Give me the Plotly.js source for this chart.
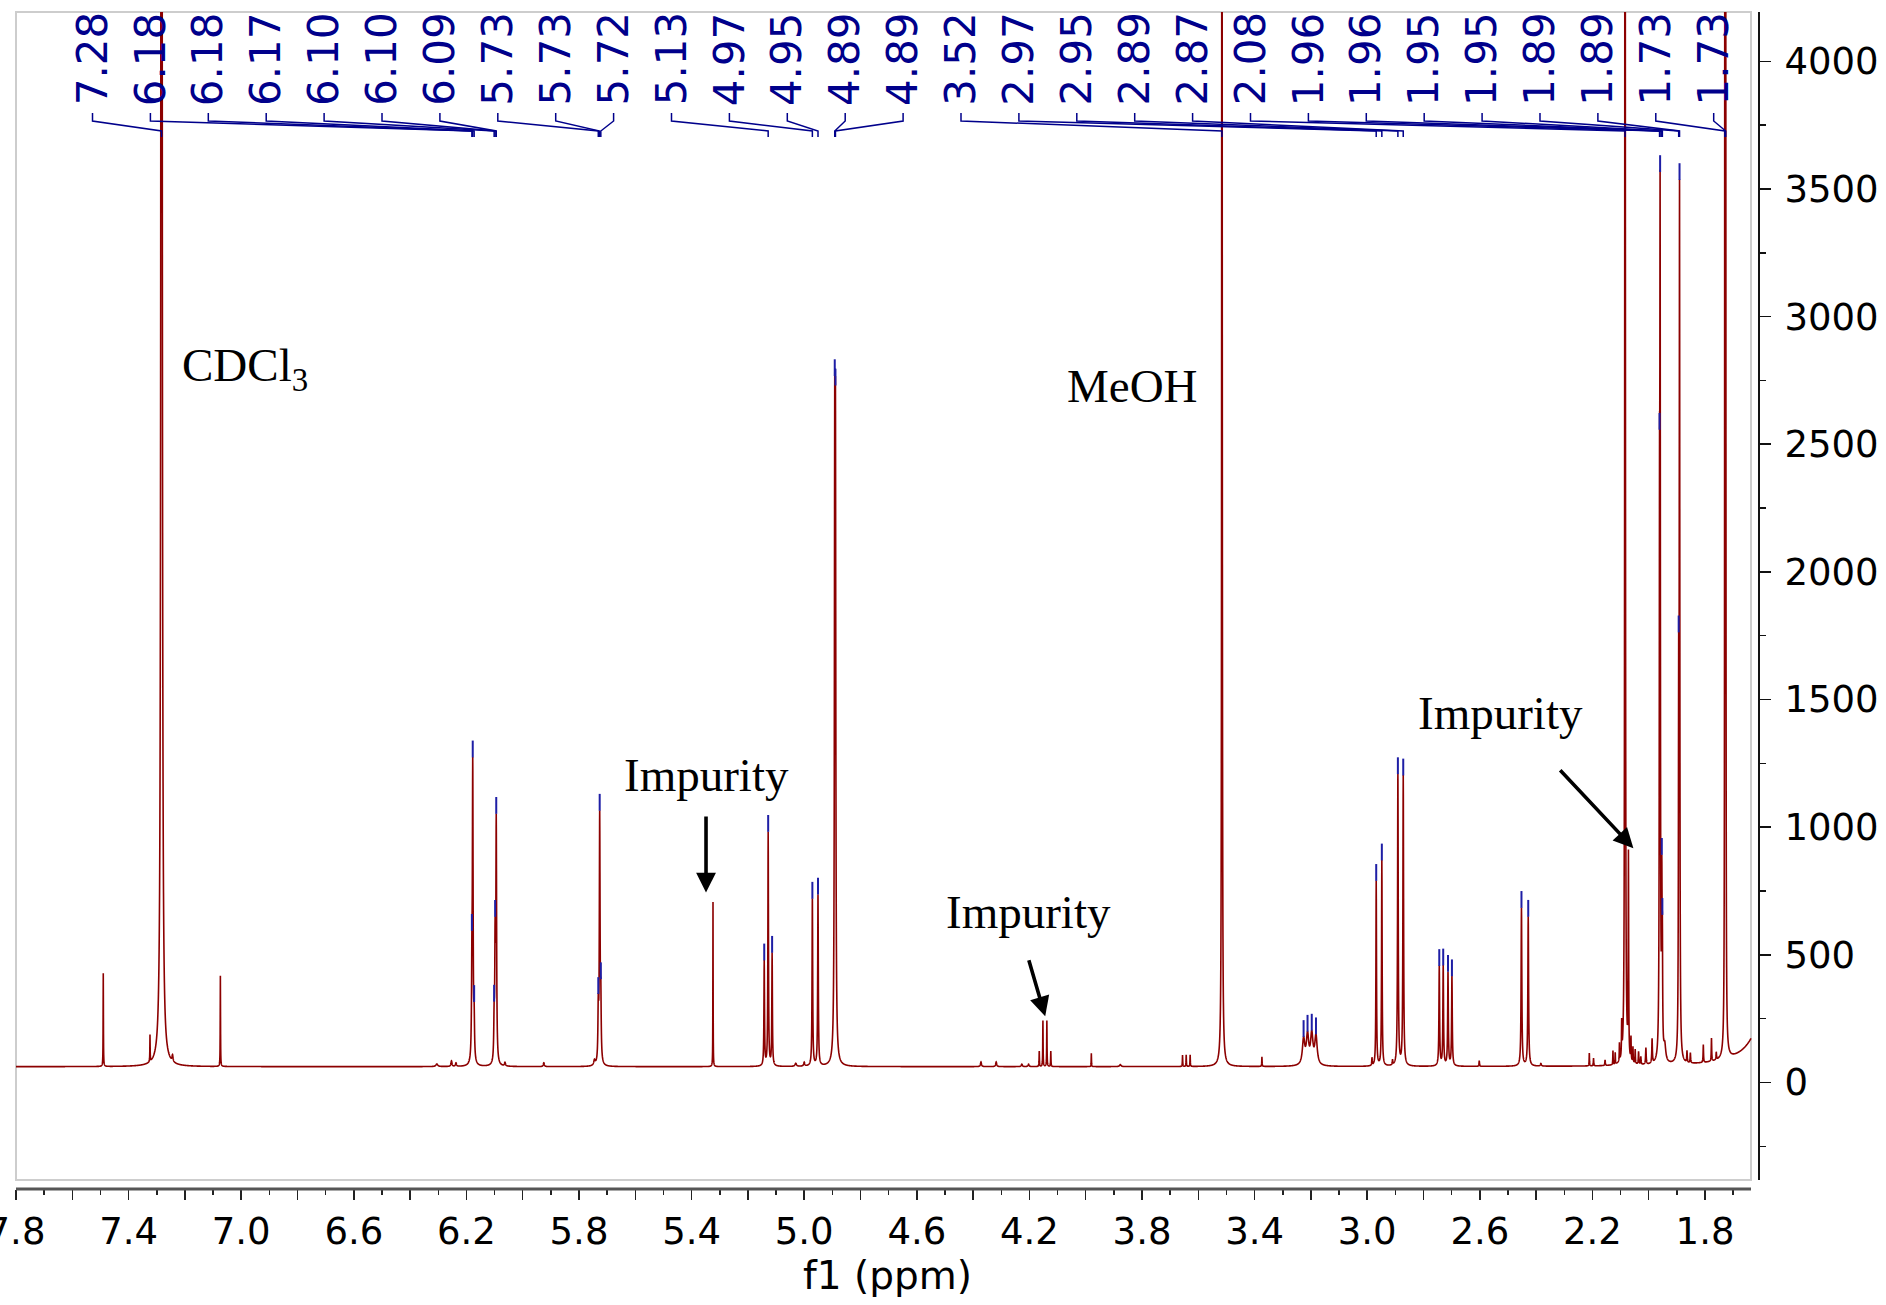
<!DOCTYPE html>
<html>
<head>
<meta charset="utf-8">
<script src="https://cdn.plot.ly/plotly-3.0.1.min.js"></script>
<style>
  html, body { margin: 0; padding: 0; background: #ffffff; }
  #chart { width: 1886px; height: 1305px; }
</style>
</head>
<body>
<div id="chart"></div>
<script>
// ---- 1H NMR peak table (CDCl3) ----
// chemical shift (ppm)
const peakPpm = [
  7.490, 7.324, 7.283, 7.244, 7.074,
  6.305, 6.253, 6.237,
  6.1805, 6.1775, 6.1725,
  6.1015, 6.098, 6.094,
  6.063, 5.925, 5.745,
  5.7315, 5.7265, 5.7225,
  5.324,
  5.142, 5.128, 5.114,
  5.030, 5.000,
  4.971, 4.951,
  4.8915, 4.889,
  4.372, 4.318, 4.227, 4.203,
  4.165, 4.152, 4.138, 4.124,
  3.980, 3.877,
  3.656, 3.643, 3.629,
  3.516,
  3.374,
  3.226, 3.212, 3.197, 3.182,
  2.983, 2.968, 2.948, 2.910, 2.891, 2.872,
  2.744, 2.730, 2.713, 2.699,
  2.602,
  2.452, 2.428, 2.383,
  2.211, 2.196, 2.155, 2.127, 2.119, 2.104, 2.096,
  2.084, 2.072,
  2.063, 2.056, 2.048, 2.036, 2.028, 2.010, 1.988,
  1.9615, 1.9595, 1.9535, 1.9515, 1.943,
  1.8935, 1.8905,
  1.864, 1.852, 1.806, 1.777, 1.760,
  1.7295, 1.7265,
  1.565
];
// height above the baseline (intensity units)
const peakHeight = [
  365, 105, 15500, 25, 355,
  10, 22, 14,
  300, 1140, 150,
  150, 450, 930,
  14, 15, 20,
  200, 960, 220,
  645,
  410, 915, 440,
  12, 15,
  655, 670,
  2150, 2100,
  18, 18, 10, 10,
  60, 180, 180, 60,
  52, 8,
  45, 45, 45,
  7000,
  38,
  100, 112, 117, 112,
  30, 725, 805, 20, 1140, 1135,
  390, 390, 365, 350,
  22,
  620, 585, 10,
  50, 30, 22, 55, 45, 70, 130,
  8000, 790,
  90, 60, 55, 50, 30, 65, 95,
  1760, 3060, 600, 360, 60,
  1300, 3310,
  45, 40, 70, 90, 30,
  5000, 5000,
  310
];
// half width at half height (ppm)
const peakHwhm = [
  0.0006, 0.0006, 0.0015, 0.002, 0.0006,
  0.004, 0.002, 0.002,
  0.0015, 0.0015, 0.0015,
  0.0015, 0.0015, 0.0015,
  0.002, 0.002, 0.003,
  0.0015, 0.0015, 0.0015,
  0.0005,
  0.0012, 0.0012, 0.0012,
  0.003, 0.002,
  0.0013, 0.0013,
  0.0015, 0.0015,
  0.002, 0.002, 0.002, 0.002,
  0.0007, 0.0007, 0.0007, 0.0007,
  0.0006, 0.003,
  0.0007, 0.0007, 0.0007,
  0.001,
  0.0007,
  0.005, 0.005, 0.005, 0.005,
  0.001, 0.0012, 0.0012, 0.001, 0.0014, 0.0014,
  0.0014, 0.0014, 0.0014, 0.0014,
  0.001,
  0.0015, 0.0015, 0.002,
  0.0007, 0.0008, 0.001, 0.0007, 0.0007, 0.0007, 0.0008,
  0.001, 0.0009,
  0.0008, 0.0008, 0.0008, 0.001, 0.001, 0.0012, 0.0012,
  0.0011, 0.0011, 0.0011, 0.0011, 0.004,
  0.0011, 0.0011,
  0.001, 0.001, 0.0009, 0.0009, 0.001,
  0.0008, 0.0008,
  0.053
];
const baselineLevel = 62;

// labelled lines (shift printed above the spectrum)
const labelPpm = [
  7.283, 6.1805, 6.1775, 6.1725, 6.1015, 6.098, 6.094,
  5.7315, 5.7265, 5.7225, 5.128, 4.971, 4.951, 4.8915, 4.889,
  3.516, 2.968, 2.948, 2.891, 2.872, 2.084,
  1.9615, 1.9595, 1.9535, 1.9515, 1.8935, 1.8905, 1.7295, 1.7265
];
// further picked lines (tick mark only, no label)
const pickedExtraPpm = [5.142, 5.114, 3.226, 3.212, 3.197, 3.182,
  2.744, 2.730, 2.713, 2.699, 2.452, 2.428];

// axis tick labels
const xTickLabels = ['7.8', '7.4', '7.0', '6.6', '6.2', '5.8', '5.4', '5.0',
  '4.6', '4.2', '3.8', '3.4', '3.0', '2.6', '2.2', '1.8'];
const yTickLabels = ['0', '500', '1000', '1500', '2000', '2500', '3000', '3500', '4000'];

// ---- geometry ----
const X_LEFT = 7.8, X_RIGHT = 1.6082;     // axis range (reversed ppm scale)
const X_DATA_END = 1.636;                  // spectrum stops at the frame edge
const Y_MIN = -417.2, Y_MAX = 4193.1;
const FRAME_RIGHT = 0.99541, FRAME_BOTTOM = 0.00765;

function intensity(x) {
  let s = baselineLevel;
  for (let i = 0; i < peakPpm.length; i++) {
    const w2 = peakHwhm[i] * peakHwhm[i];
    const d = x - peakPpm[i];
    s += peakHeight[i] * w2 / (d * d + w2);
  }
  return s;
}

// sampled spectrum, with every line centre included so apexes are exact
const xs = [];
for (let k = 0; ; k++) {
  const v = X_LEFT - k * 0.0004;
  if (v < X_DATA_END) break;
  xs.push(v);
}
peakPpm.forEach(p => { if (p <= X_LEFT && p >= X_DATA_END) xs.push(p); });
xs.sort((a, b) => b - a);
const ys = xs.map(intensity);

const spectrum = {
  type: 'scatter', mode: 'lines', x: xs, y: ys,
  line: { color: 'rgb(140,0,0)', width: 1.6, simplify: false },
  hoverinfo: 'skip'
};

// peak-pick tick marks sitting just above the trace
const pickedPpm = labelPpm.concat(pickedExtraPpm);
const pxPerUnit = 1177 / (Y_MAX - Y_MIN);
const pickTicks = {
  type: 'scatter', mode: 'markers',
  x: pickedPpm,
  y: pickedPpm.map(p => intensity(p) + 8 / pxPerUnit),
  marker: { symbol: 'line-ns', size: 12, line: { width: 2, color: 'rgb(30,30,165)' } },
  hoverinfo: 'skip'
};

// ---- peak labels with bracket connectors ----
const navy = 'rgb(0,0,139)';
const slotFirst = 7.5282, slotStep = 0.20568;  // evenly spread label slots (ppm)
const yA = 0.91419, yB = 0.90739, yC = 0.89890, yD = 0.89380;
const shapes = [
  { type: 'rect', xref: 'paper', yref: 'paper', x0: 0, x1: FRAME_RIGHT, y0: FRAME_BOTTOM, y1: 1,
    line: { color: 'rgb(205,205,205)', width: 2 }, fillcolor: 'rgba(0,0,0,0)', layer: 'below' },
  { type: 'line', xref: 'paper', yref: 'paper', x0: 0, x1: FRAME_RIGHT, y0: 0, y1: 0,
    line: { color: 'rgb(85,85,85)', width: 3 } },
  { type: 'line', xref: 'paper', yref: 'paper', x0: 1, x1: 1, y0: FRAME_BOTTOM, y1: 1,
    line: { color: 'rgb(20,20,20)', width: 2 } }
];
const annotations = [];
labelPpm.forEach((p, k) => {
  const s = slotFirst - k * slotStep;
  shapes.push({
    type: 'path', xref: 'x', yref: 'paper',
    path: `M ${s},${yA} L ${s},${yB} L ${p},${yC} L ${p},${yD}`,
    line: { color: navy, width: 1.5 }
  });
  annotations.push({
    x: s, xref: 'x', y: 1.001, yref: 'paper', xanchor: 'center', yanchor: 'top',
    text: p.toFixed(2), textangle: -90, showarrow: false, borderpad: 0,
    font: { family: 'DejaVu Sans, Verdana, sans-serif', size: 42, color: navy }
  });
});

// ---- solvent / impurity notes ----
const serif = { family: 'Liberation Serif, Times New Roman, serif', size: 47, color: '#000' };
annotations.push(
  { x: 7.2174, y: 2796, xref: 'x', yref: 'y', xanchor: 'left', yanchor: 'middle',
    text: 'CDCl<sub>3</sub>', showarrow: false, font: serif },
  { x: 3.8355, y: 2730, xref: 'x', yref: 'y', xanchor: 'center', yanchor: 'middle',
    text: 'MeOH', showarrow: false, font: serif },
  { x: 5.3488, y: 1204, xref: 'x', yref: 'y', xanchor: 'center', yanchor: 'middle',
    text: 'Impurity', showarrow: false, font: serif },
  { x: 4.2035, y: 667, xref: 'x', yref: 'y', xanchor: 'center', yanchor: 'middle',
    text: 'Impurity', showarrow: false, font: serif },
  { x: 2.5282, y: 1448, xref: 'x', yref: 'y', xanchor: 'center', yanchor: 'middle',
    text: 'Impurity', showarrow: false, font: serif }
);
const arrowStyle = { showarrow: true, text: '', arrowhead: 2, arrowsize: 1.1, arrowwidth: 3.6,
  arrowcolor: '#000', standoff: 0, startstandoff: 0, xref: 'x', yref: 'y', axref: 'x', ayref: 'y' };
annotations.push(
  Object.assign({ x: 5.3488, y: 744, ax: 5.3488, ay: 1048 }, arrowStyle),
  Object.assign({ x: 4.1439, y: 259, ax: 4.2035, ay: 485 }, arrowStyle),
  Object.assign({ x: 2.0544, y: 918, ax: 2.3194, ay: 1229 }, arrowStyle)
);

// ---- axes ----
const majorVals = [];
const majorText = [];
for (let k = 0; k <= 30; k++) {
  majorVals.push((78 - 2 * k) / 10);
  majorText.push(k % 2 === 0 ? xTickLabels[k / 2] : '');
}
const tickFont = { family: 'DejaVu Sans, Verdana, sans-serif', size: 37, color: '#000' };

const layout = {
  width: 1886, height: 1305,
  margin: { l: 16, r: 127, t: 12, b: 116, pad: 0 },
  paper_bgcolor: '#ffffff', plot_bgcolor: '#ffffff',
  showlegend: false,
  xaxis: {
    range: [X_LEFT, X_RIGHT], tickmode: 'array', tickvals: majorVals, ticktext: majorText,
    ticks: 'outside', ticklen: 10, tickwidth: 1.5, tickcolor: '#222',
    ticklabeloverflow: 'allow',
    showline: false, showgrid: false, zeroline: false, tickfont: tickFont,
    minor: { tickmode: 'linear', tick0: 0, dtick: 0.1, ticks: 'outside', ticklen: 5,
             tickwidth: 1.5, tickcolor: '#222', showgrid: false },
    title: { text: 'f1 (ppm)', font: { family: 'DejaVu Sans, Verdana, sans-serif', size: 39, color: '#000' }, standoff: 8 }
  },
  yaxis: {
    side: 'right', range: [Y_MIN, Y_MAX],
    tickmode: 'array', tickvals: yTickLabels.map(Number), ticktext: yTickLabels,
    ticks: 'outside', ticklen: 11, tickwidth: 1.5, tickcolor: '#111',
    ticklabelstandoff: 6, ticklabeloverflow: 'allow',
    showline: false, showgrid: false, zeroline: false, tickfont: tickFont,
    minor: { tickmode: 'linear', tick0: 0, dtick: 250, ticks: 'outside', ticklen: 6,
             tickwidth: 1.5, tickcolor: '#111', showgrid: false }
  },
  shapes: shapes,
  annotations: annotations
};

Plotly.newPlot('chart', [spectrum, pickTicks], layout, { staticPlot: true, displayModeBar: false });
</script>
</body>
</html>
